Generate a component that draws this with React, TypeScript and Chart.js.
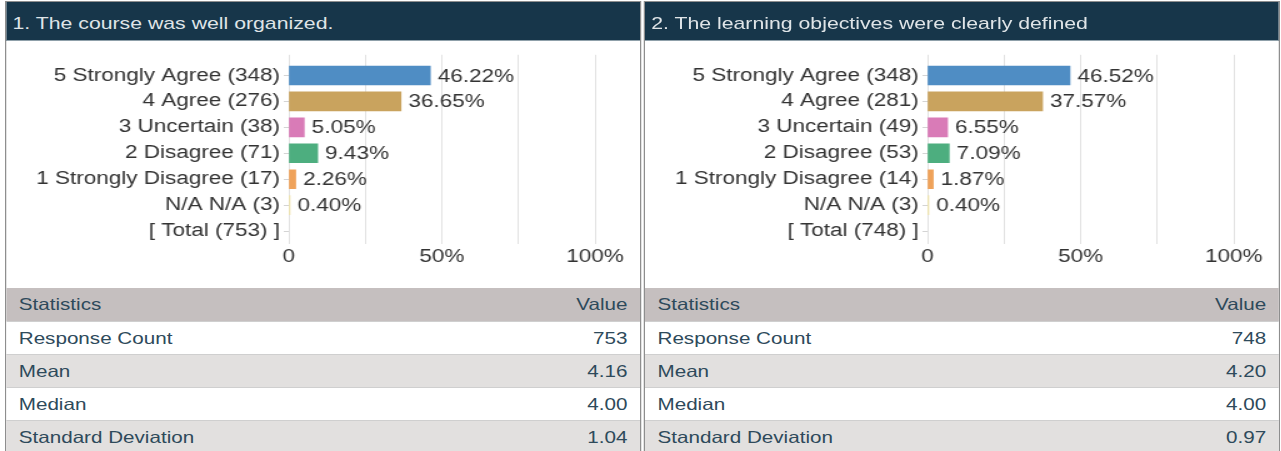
import React, { useEffect, useRef } from 'react';
import { Chart, registerables } from 'chart.js';

Chart.register(...registerables);

const FONT = '"Liberation Sans", Arial, Helvetica, sans-serif';
Chart.defaults.font.family = FONT;

const titles = ['1. The course was well organized.', '2. The learning objectives were clearly defined'];

const categories1 = [
  '5 Strongly Agree (348)',
  '4 Agree (276)',
  '3 Uncertain (38)',
  '2 Disagree (71)',
  '1 Strongly Disagree (17)',
  'N/A N/A (3)',
  '[ Total (753) ]',
];
const percents1 = [46.22, 36.65, 5.05, 9.43, 2.26, 0.4];

const categories2 = [
  '5 Strongly Agree (348)',
  '4 Agree (281)',
  '3 Uncertain (49)',
  '2 Disagree (53)',
  '1 Strongly Disagree (14)',
  'N/A N/A (3)',
  '[ Total (748) ]',
];
const percents2 = [46.52, 37.57, 6.55, 7.09, 1.87, 0.4];

const barColors = ['#4f8dc4', '#c9a35e', '#d97bb7', '#4dae7f', '#efa25a', '#eee2a8'];

const xTicks = [0, 25, 50, 75, 100];
const xTickLabels = ['0', '', '50%', '', '100%'];

const statHeader = ['Statistics', 'Value'];
const statNames = ['Response Count', 'Mean', 'Median', 'Standard Deviation'];
const statValues1 = ['753', '4.16', '4.00', '1.04'];
const statValues2 = ['748', '4.20', '4.00', '0.97'];

const SCALE_X = 1.25;

function BarChart({ categories, percents }: { categories: string[]; percents: number[] }) {
  const ref = useRef<HTMLCanvasElement>(null);
  useEffect(() => {
    if (!ref.current) return;
    const labelPlugin = {
      id: 'pctLabels',
      afterDatasetsDraw(chart: any) {
        const { ctx } = chart;
        const meta = chart.getDatasetMeta(0);
        ctx.save();
        ctx.font = `18px ${FONT}`;
        ctx.fillStyle = '#333';
        ctx.textAlign = 'left';
        ctx.textBaseline = 'middle';
        meta.data.forEach((el: any, i: number) => {
          const v = (chart.data.datasets[0].data[i] as any).x as number;
          ctx.fillText(v.toFixed(2) + '%', el.x + 6, el.y + 1);
        });
        ctx.restore();
      },
    };
    const chart = new Chart(ref.current, {
      type: 'bar',
      data: {
        datasets: [
          {
            data: percents.map((v, i) => ({ x: v, y: i })) as any,
            backgroundColor: barColors,
            borderWidth: 0,
            barThickness: 19,
          },
        ],
      },
      options: {
        indexAxis: 'y',
        animation: false,
        responsive: true,
        maintainAspectRatio: false,
        layout: { padding: { top: 8, right: 36, left: 0, bottom: 0 } },
        plugins: { legend: { display: false }, tooltip: { enabled: false } },
        scales: {
          x: {
            type: 'linear',
            min: 0,
            max: 100,
            afterBuildTicks: (s: any) => {
              s.ticks = xTicks.map((v) => ({ value: v }));
            },
            afterFit: (s: any) => {
              s.height = 44;
            },
            ticks: {
              callback: (v: any) => xTickLabels[xTicks.indexOf(Number(v))],
              color: '#333',
              font: { size: 18 },
              padding: 2,
              maxRotation: 0,
              autoSkip: false,
            },
            grid: { color: '#e2e2e2', drawTicks: false },
            border: { display: false },
          },
          y: {
            type: 'linear',
            reverse: true,
            offset: false,
            min: -0.8,
            max: 6.5,
            afterBuildTicks: (s: any) => {
              s.ticks = categories.map((_, i) => ({ value: i }));
            },
            afterFit: (s: any) => {
              s.width = 226;
            },
            ticks: {
              callback: (v: any) => categories[Number(v)],
              color: '#333',
              font: { size: 18 },
              autoSkip: false,
              padding: 3,
            },
            grid: { drawOnChartArea: false, tickLength: 4, color: '#d4d4d4', offset: false },
            border: { display: false },
          },
        },
      } as any,
      plugins: [labelPlugin],
    });
    return () => chart.destroy();
  }, [categories, percents]);
  return <canvas ref={ref} />;
}

function StatsTable({ values }: { values: string[] }) {
  const rowStyle = (bg: string, top: number): React.CSSProperties => ({
    position: 'absolute',
    left: 0,
    right: 0,
    top,
    height: 33,
    boxSizing: 'border-box',
    background: bg,
    borderTop: '1px solid #cfcfcf',
    display: 'flex',
    alignItems: 'center',
    justifyContent: 'space-between',
    padding: '0 10px 0 10px',
    fontFamily: FONT,
    fontSize: 16.5,
    color: '#2e4a5b',
  });
  return (
    <>
      <div style={{ ...rowStyle('#c5bfbf', 0), borderTop: 'none' }}>
        <span>{statHeader[0]}</span>
        <span>{statHeader[1]}</span>
      </div>
      {statNames.map((n, i) => (
        <div key={n} style={rowStyle(i % 2 === 0 ? '#ffffff' : '#e2e0df', 33 * (i + 1))}>
          <span>{n}</span>
          <span>{values[i]}</span>
        </div>
      ))}
    </>
  );
}

function Panel({
  left,
  title,
  categories,
  percents,
  stats,
}: {
  left: number;
  title: string;
  categories: string[];
  percents: number[];
  stats: string[];
}) {
  return (
    <div
      style={{
        position: 'absolute',
        left,
        top: 1,
        width: 509,
        height: 470,
        boxSizing: 'border-box',
        border: '1px solid #8e8e8e',
        background: '#ffffff',
        overflow: 'hidden',
      }}
    >
      <div
        style={{
          position: 'absolute',
          left: 0,
          right: 0,
          top: 0,
          height: 38,
          background: '#17364a',
          borderBottom: '1px solid #8fa0aa',
          color: '#dfe4e7',
          fontFamily: FONT,
          fontSize: 17,
          lineHeight: '44px',
          paddingLeft: 5,
          whiteSpace: 'nowrap',
          overflow: 'hidden',
        }}
      >
        {title}
      </div>
      <div style={{ position: 'absolute', left: 0, top: 39, width: 507, height: 247 }}>
        <BarChart categories={categories} percents={percents} />
      </div>
      <div style={{ position: 'absolute', left: 0, right: 0, top: 286, height: 180 }}>
        <StatsTable values={stats} />
      </div>
    </div>
  );
}

export default function App() {
  return (
    <>
      <style>{`html,body{margin:0;padding:0;overflow:hidden;background:#fff;}`}</style>
      <div
        style={{
          position: 'relative',
          width: 1024,
          height: 451,
          transform: `scaleX(${SCALE_X})`,
          transformOrigin: '0 0',
          overflow: 'hidden',
        }}
      >
        <Panel left={4} title={titles[0]} categories={categories1} percents={percents1} stats={statValues1} />
        <Panel left={515} title={titles[1]} categories={categories2} percents={percents2} stats={statValues2} />
      </div>
    </>
  );
}
